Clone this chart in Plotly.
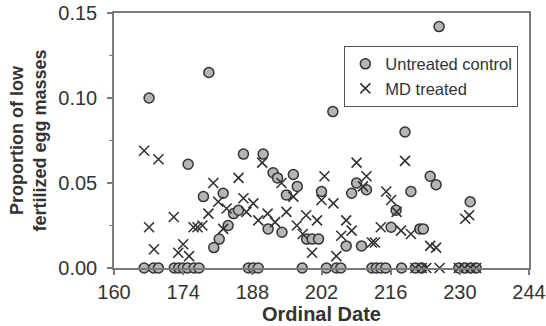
import plotly.graph_objects as go

# Untreated control (ordinal day, proportion)
control_day = [166.1, 168.0, 169.0, 172.2, 173.1, 174.0, 174.9, 176.2, 177.2,
               187.2, 188.2, 189.2, 198.1, 203.0, 205.0, 205.9,
               212.2, 213.1, 214.0, 215.0, 218.2, 221.0, 222.3,
               229.8, 231.0, 232.2, 233.3,
               167.1, 179.2, 175.0, 178.1, 182.1, 183.1, 181.3, 180.2, 184.2, 185.2,
               186.2, 190.2, 191.2, 192.2, 193.1, 194.0, 194.9, 196.3, 197.1, 199.0,
               200.1, 201.4, 202.0, 204.3, 207.0, 208.1, 209.1, 210.1, 211.1, 216.1,
               217.1, 218.9, 220.1, 221.9, 222.6, 224.0, 225.2, 225.8, 232.1]
control_val = [0] * 27 + [
               0.100, 0.115, 0.061, 0.042, 0.044, 0.025, 0.017, 0.012, 0.032, 0.034,
               0.067, 0.067, 0.023, 0.056, 0.053, 0.021, 0.043, 0.055, 0.048, 0.017,
               0.017, 0.017, 0.045, 0.092, 0.013, 0.044, 0.050, 0.013, 0.046, 0.024,
               0.034, 0.080, 0.045, 0.023, 0.023, 0.054, 0.049, 0.142, 0.039]

# MD treated (ordinal day, proportion)
md_day = [166.1, 169.0, 180.1, 181.1, 182.8, 179.1, 172.1, 167.1, 176.1, 176.9,
          177.9, 182.1, 168.1, 174.0, 173.0, 175.2,
          185.2, 190.0, 193.9, 196.3, 202.6, 202.0, 186.2, 188.2, 186.8, 189.2,
          191.1, 192.6, 194.9, 197.0, 198.9, 201.1, 198.2, 200.1,
          209.1, 218.9, 211.1, 210.4, 215.1, 216.1, 217.2, 204.4, 207.0, 208.1,
          206.0, 214.0, 218.1, 220.1, 212.2, 212.8, 205.0, 224.0, 225.2, 231.1, 231.9,
          221.0, 222.3, 223.2, 225.9, 229.8, 231.0, 232.2, 233.3]
md_val = [0.069, 0.064, 0.050, 0.039, 0.035, 0.032, 0.030, 0.024, 0.024, 0.024,
          0.025, 0.023, 0.011, 0.014, 0.009, 0.007,
          0.053, 0.062, 0.050, 0.042, 0.054, 0.040, 0.041, 0.038, 0.033, 0.028,
          0.032, 0.027, 0.033, 0.025, 0.031, 0.028, 0.020, 0.009,
          0.062, 0.063, 0.054, 0.048, 0.045, 0.040, 0.033, 0.038, 0.028, 0.022,
          0.019, 0.024, 0.022, 0.020, 0.015, 0.015, 0.007, 0.013, 0.012, 0.029, 0.031,
          0, 0, 0, 0, 0, 0, 0, 0]

x_ticks = [160, 174, 188, 202, 216, 230, 244]
y_ticks = [0.00, 0.05, 0.10, 0.15]
y_tick_text = ["0.00", "0.05", "0.10", "0.15"]

FONT = "Liberation Sans, Arial, sans-serif"
TXT = "#333333"
AX = "#7a7a7a"

fig = go.Figure()
fig.add_trace(go.Scatter(
    x=control_day, y=control_val, mode="markers", name="Untreated control",
    marker=dict(symbol="circle", size=10, color="#b5b5b5",
                line=dict(color="#333333", width=1.5)),
    cliponaxis=False))
fig.add_trace(go.Scatter(
    x=md_day, y=md_val, mode="markers", name="MD treated",
    marker=dict(symbol="x-thin-open", size=10, color="#333333",
                line=dict(color="#333333", width=1.6)),
    cliponaxis=False))

fig.update_layout(
    width=546, height=326,
    margin=dict(l=114, r=17, t=13, b=58, autoexpand=False),
    paper_bgcolor="white", plot_bgcolor="white",
    font=dict(family=FONT, color=TXT, size=20),
    showlegend=True,
    legend=dict(x=0.555, y=0.872, xanchor="left", yanchor="top",
                bgcolor="white", bordercolor="#555555", borderwidth=1,
                font=dict(size=16.5, color=TXT), itemwidth=30,
                tracegroupgap=0),
    xaxis=dict(range=[160, 244], tickvals=x_ticks, ticks="outside", ticklen=5,
               tickwidth=1.5, tickcolor=AX, showline=True, linecolor=AX,
               linewidth=1.5, mirror=True, showgrid=False, zeroline=False,
               automargin=False, ticklabeloverflow="allow",
               tickfont=dict(size=20, color=TXT),
               title=dict(text="<b>Ordinal Date</b>", font=dict(size=20, color=TXT),
                          standoff=0)),
    yaxis=dict(range=[0, 0.15], tickvals=y_ticks, ticktext=y_tick_text,
               ticks="outside", ticklen=5, tickwidth=1.5, tickcolor=AX,
               ticklabelstandoff=6, ticklabeloverflow="allow",
               minor=dict(dtick=0.025, ticks="outside", ticklen=3, tickcolor=AX, tickwidth=1),
               showline=True, linecolor=AX, linewidth=1.5, mirror=True,
               showgrid=False, zeroline=False, automargin=False,
               tickfont=dict(size=20, color=TXT),
               title=dict(text="<b>Proportion of low<br>fertilized egg masses</b>",
                          font=dict(size=18, color=TXT), standoff=7)),
    xaxis2=dict(range=[160, 244], tickvals=x_ticks, ticks="inside", ticklen=5,
                tickwidth=1.5, tickcolor=AX, showticklabels=False, overlaying="x",
                side="bottom", showgrid=False, zeroline=False, showline=False,
                automargin=False),
    yaxis2=dict(range=[0, 0.15], tickvals=y_ticks, ticks="inside", ticklen=5,
                tickwidth=1.5, tickcolor=AX, showticklabels=False, overlaying="y",
                side="left", showgrid=False, zeroline=False, showline=False,
                automargin=False),
)

# remove the browser's default 8px page margin so the figure fills the window
fig.write_html("out.html",
               config={"displayModeBar": False},
               post_script="document.body.style.margin='0';document.body.style.overflow='hidden';")
